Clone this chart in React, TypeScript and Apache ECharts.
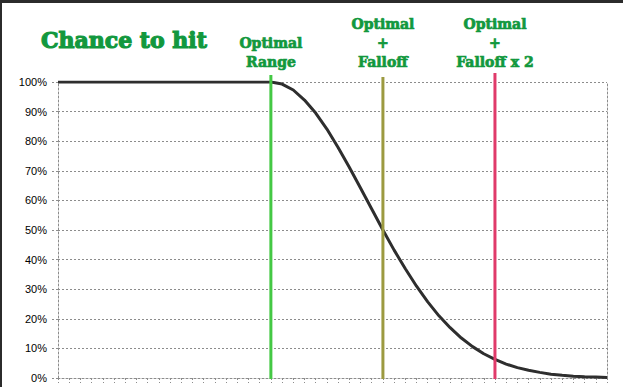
import React, { useEffect, useRef } from "react";
import * as echarts from "echarts";

// distance steps (category positions along the x axis)
const distances = [
  0, 1, 2, 3, 4, 5, 6, 7, 8, 9, 10, 11, 12, 13, 14, 15, 16, 17, 18, 19,
  20, 21, 22, 23, 24, 25, 26, 27, 28, 29, 30, 31, 32, 33, 34, 35, 36, 37, 38, 39,
  40, 41, 42, 43, 44, 45, 46, 47, 48, 49,
];
// chance to hit (%)
const hitChance = [
  100, 100, 100, 100, 100, 100, 100, 100, 100, 100, 100, 100, 100, 100, 100, 100, 100, 100, 100, 100,
  99.3, 97.3, 93.9, 89.5, 84.1, 77.9, 71.2, 64.2, 57.1, 50,
  43.2, 36.9, 31.0, 25.7, 21.0, 17.0, 13.5, 10.6, 8.2, 6.3,
  4.7, 3.5, 2.6, 1.9, 1.3, 0.9, 0.6, 0.4, 0.3, 0.2,
];
const yTicks = [0, 10, 20, 30, 40, 50, 60, 70, 80, 90, 100];

const markerPositions = [19, 29, 39];
const markerLabels = ["Optimal\nRange", "Optimal\n+\nFalloff", "Optimal\n+\nFalloff x 2"];
const markerColors = ["#44c844", "#9c9a40", "#e03a6a"];
const markerTopExtra = [7, 5, 9];

const titleText = "Chance to hit";
const labelGreen = "#12983e";
const gridGray = "#8c8c8c";

export default function App() {
  const ref = useRef<HTMLDivElement>(null);
  useEffect(() => {
    document.body.style.margin = "0";
    const chart = echarts.init(ref.current!, undefined, { renderer: "svg" });
    const dotted = { color: gridGray, width: 1, type: [2, 2] as any };
    chart.setOption({
      animation: false,
      backgroundColor: "#ffffff",
      grid: { left: 58, right: 16, top: 82, bottom: 9, containLabel: false },
      xAxis: {
        type: "value",
        min: 0,
        max: distances[distances.length - 1],
        interval: 1,
        axisLine: { show: true, lineStyle: dotted },
        axisTick: { show: true, length: 5, lineStyle: dotted },
        axisLabel: { show: false },
        splitLine: { show: false },
      },
      yAxis: [
        {
          type: "value",
          min: yTicks[0],
          max: yTicks[yTicks.length - 1],
          interval: 10,
          axisLine: { show: true, lineStyle: dotted },
          axisTick: { show: true, length: 6, lineStyle: dotted },
          axisLabel: {
            formatter: "{value}%",
            fontFamily: "Liberation Sans, Arial, sans-serif",
            fontSize: 11,
            color: "#000",
            margin: 11,
          },
          splitLine: { show: true, lineStyle: dotted },
        },
        {
          type: "value",
          position: "right",
          min: yTicks[0],
          max: yTicks[yTicks.length - 1],
          interval: 10,
          axisLine: { show: true, lineStyle: dotted },
          axisTick: { show: false },
          axisLabel: { show: false },
          splitLine: { show: false },
        },
      ],
      graphic: [
        { type: "rect", shape: { x: 0, y: 0, width: 623, height: 3 }, style: { fill: "#2b2b2b" }, z: 100 },
        { type: "rect", shape: { x: 0, y: 0, width: 2, height: 387 }, style: { fill: "#2b2b2b" }, z: 100 },
        {
          type: "text",
          x: 41,
          y: 51,
          style: {
            text: titleText,
            fill: labelGreen,
            stroke: labelGreen,
            lineWidth: 1.2,
            fontFamily: "DejaVu Serif",
            fontWeight: "bold",
            fontSize: 22,
            align: "left",
            verticalAlign: "bottom",
          },
        },
      ],
      series: [
        {
          type: "line",
          data: distances.map((d, i) => [d, hitChance[i]]),
          showSymbol: false,
          symbol: "none",
          lineStyle: { color: "#2e2e2e", width: 3 },
          z: 2,
        },
        {
          type: "custom",
          clip: false,
          z: 5,
          data: markerPositions.map((p) => [p]),
          renderItem: (params: any, api: any) => {
            const i = params.dataIndex;
            const x = api.value(0);
            const top = api.coord([x, 100]);
            const bottom = api.coord([x, 0]);
            return {
              type: "group",
              children: [
                {
                  type: "line",
                  shape: { x1: top[0], y1: top[1] - markerTopExtra[i], x2: top[0], y2: bottom[1] + 1 },
                  style: { stroke: markerColors[i], lineWidth: 3 },
                },
                {
                  type: "text",
                  x: top[0],
                  y: 71,
                  style: {
                    text: markerLabels[i],
                    fill: labelGreen,
                    stroke: labelGreen,
                    lineWidth: 0.7,
                    fontFamily: "DejaVu Serif",
                    fontWeight: "bold",
                    fontSize: 14,
                    lineHeight: 19,
                    align: "center",
                    verticalAlign: "bottom",
                  },
                },
              ],
            };
          },
        },
      ],
    });
    return () => chart.dispose();
  }, []);
  return (
    <div
      ref={ref}
      style={{ width: 623, height: 387, position: "absolute", left: 0, top: 0 }}
    />
  );
}
